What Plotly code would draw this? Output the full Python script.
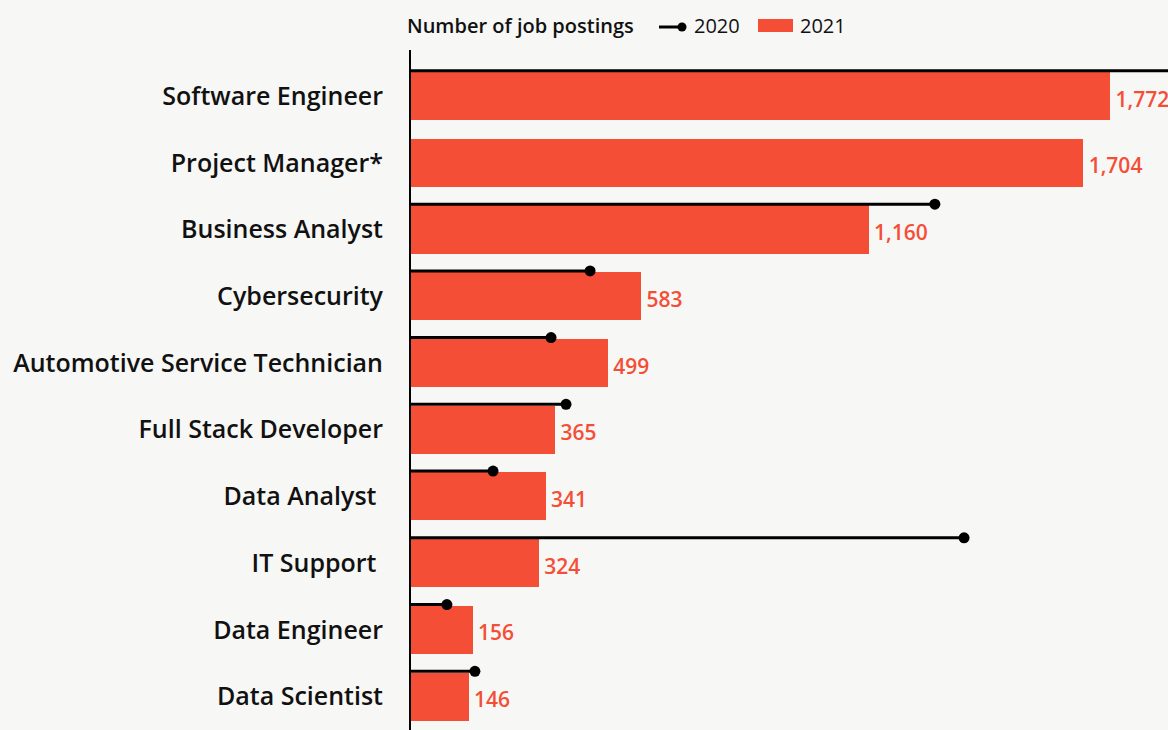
"""
Job postings by role: 2021 bars with 2020 lollipop lines
"""

import plotly.graph_objects as go

roles = [
    "Software Engineer", "Project Manager*", "Business Analyst",
    "Cybersecurity", "Automotive Service Technician", "Full Stack Developer",
    "Data Analyst\u00a0", "IT Support\u00a0", "Data Engineer", "Data Scientist",
]
postings_2021 = [1772, 1704, 1160, 583, 499, 365, 341, 324, 156, 146]
postings_2020 = [2150, None, 1328, 454, 355, 393, 208, 1402, 91, 162]

BG = "#f7f7f5"
RED = "#f44e37"
FONT = "Open Sans"

W, H = 1168, 730
M_L, M_T = 411, 50

pos = list(range(len(roles)))
bar_w = 0.72
line_off = 0.38


def px(x):
    # pixel -> paper x
    return (x - M_L) / (W - M_L)


def py(y):
    # pixel -> paper y
    return (H - y) / (H - M_T)


fig = go.Figure()

fig.add_trace(go.Bar(
    x=postings_2021, y=pos, orientation="h",
    name="2021", width=bar_w,
    marker=dict(color=RED, line=dict(width=0)),
    hovertemplate="%{x:,}<extra>2021</extra>",
))

# value labels, sitting a touch below bar centre
fig.add_trace(go.Scatter(
    x=postings_2021, y=[p + 0.08 for p in pos], mode="text",
    text=[f"\u00a0{v:,}" for v in postings_2021],
    textposition="middle right",
    textfont=dict(color=RED, size=21, family=FONT, weight=600),
    cliponaxis=False, hoverinfo="skip", showlegend=False,
))

# 2020 as horizontal lines from the axis with a dot at the end
lx, ly, ls = [], [], []
for p, v in zip(pos, postings_2020):
    if v is None:
        continue
    lx += [0, v, None]
    ly += [p - line_off, p - line_off, None]
    ls += [0, 11, 0]

fig.add_trace(go.Scatter(
    x=lx, y=ly, mode="lines+markers", name="2020",
    line=dict(color="black", width=3),
    marker=dict(color="black", size=ls, line=dict(width=0), opacity=1),
    hoverinfo="skip",
))

# hand-built legend on top
legend_font = dict(family=FONT, size=20, color="#111111")
annotations = [
    dict(text="Number of job postings", x=px(405), y=py(26),
         font=dict(**legend_font, weight=600)),
    dict(text="2020", x=px(692), y=py(26), font=legend_font),
    dict(text="2021", x=px(798), y=py(26), font=legend_font),
]
for a in annotations:
    a.update(xref="paper", yref="paper", xanchor="left", yanchor="middle",
             showarrow=False)

shapes = [
    dict(type="line", x0=px(659), x1=px(682), y0=py(27), y1=py(27),
         line=dict(color="black", width=3)),
    dict(type="circle", x0=px(677.5), x1=px(686.5), y0=py(22.5), y1=py(31.5),
         fillcolor="black", line=dict(width=0)),
    dict(type="rect", x0=px(758), x1=px(793), y0=py(19), y1=py(32),
         fillcolor=RED, line=dict(width=0)),
]
for s in shapes:
    s.update(xref="paper", yref="paper", layer="above")

fig.update_layout(
    width=W, height=H,
    paper_bgcolor=BG, plot_bgcolor=BG,
    margin=dict(l=M_L, r=0, t=M_T, b=0),
    font=dict(family=FONT, color="#111111"),
    showlegend=False,
    annotations=annotations,
    shapes=shapes,
    bargap=0,
    xaxis=dict(range=[0, 1919], showgrid=False, zeroline=False,
               showticklabels=False, fixedrange=True),
    yaxis=dict(range=[9.5, -0.69], tickvals=pos, ticktext=roles,
               showgrid=False, zeroline=False, showline=True,
               linecolor="black", linewidth=2, ticks="",
               ticklabelstandoff=21, automargin=False,
               tickfont=dict(size=25, family=FONT, weight=600,
                             color="#111111")),
)

fig.write_html(
    "out.html",
    config={"displayModeBar": False},
    post_script="document.body.style.margin='0';"
                "document.body.style.overflow='hidden';",
)
